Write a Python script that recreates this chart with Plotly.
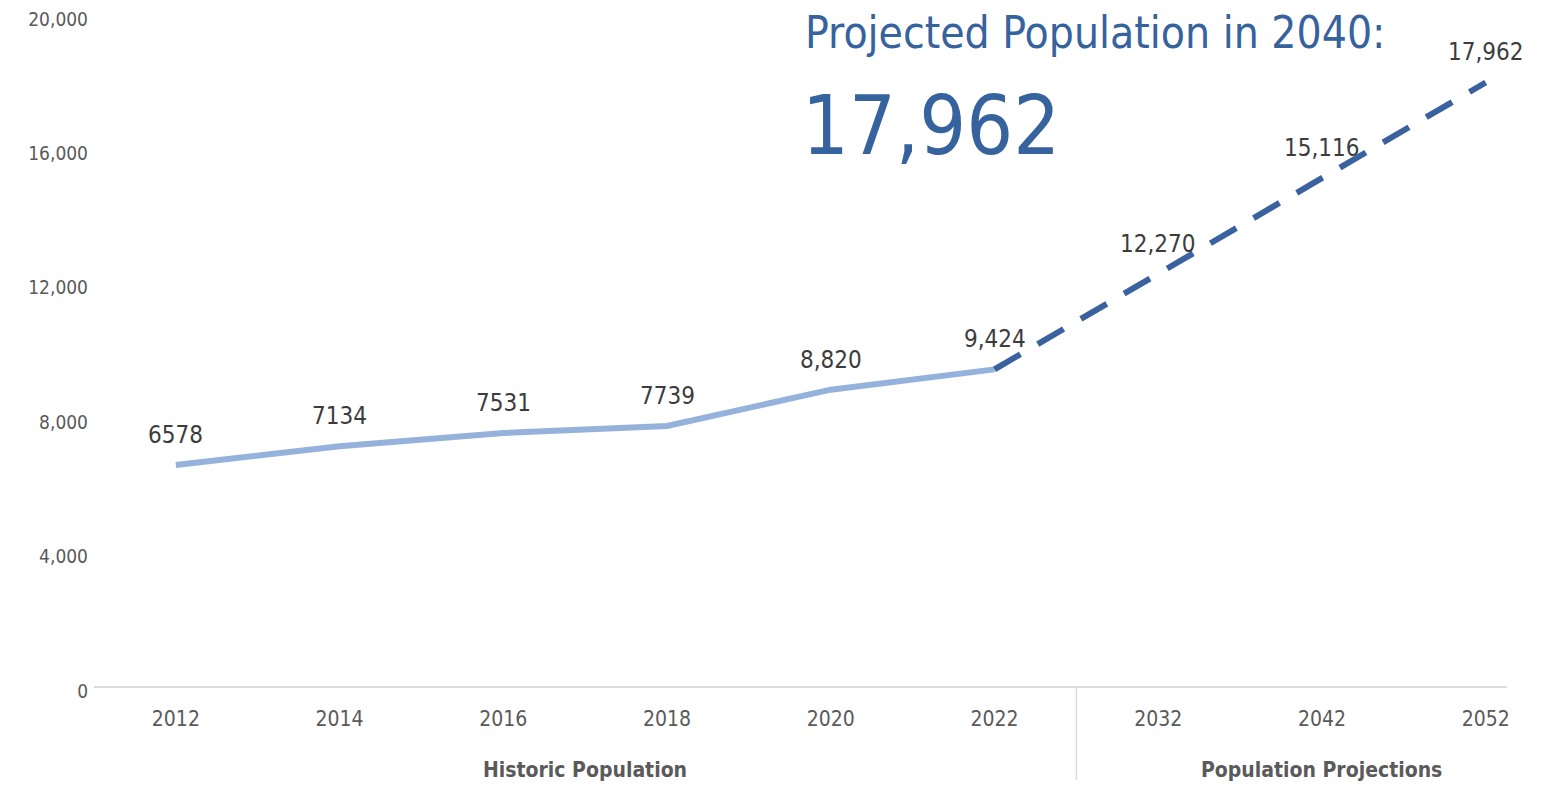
import plotly.graph_objects as go

# Population by year: historic counts and projections
years = ["2012", "2014", "2016", "2018", "2020", "2022", "2032", "2042", "2052"]
groups = ["Historic Population"] * 6 + ["Population Projections"] * 3
historic_years = years[:6]
historic_values = [6578, 7134, 7531, 7739, 8820, 9424]
projection_years = years[5:]
projection_values = [9424, 12270, 15116, 17962]
headline_value = 17962
y_ticks = [0, 4000, 8000, 12000, 16000, 20000]

NARROW = "DejaVu Sans Condensed, DejaVu Sans, sans-serif"
TITLE_BLUE = "#36629D"
LIGHT_BLUE = "#95B2DD"
DARK_BLUE = "#3A629E"
LABEL_GRAY = "#3C3C3C"
TICK_GRAY = "#5A5A5A"

W, H = 1559, 790
ML, MR, MT, MB = 94, 52, 13, 104
PW, PH = W - ML - MR, H - MT - MB

fig = go.Figure()

idx = {y: i for i, y in enumerate(years)}

fig.add_trace(go.Scatter(
    x=[idx[y] for y in historic_years], y=historic_values,
    mode="lines", line=dict(color=LIGHT_BLUE, width=6),
    hoverinfo="skip", showlegend=False,
))
fig.add_trace(go.Scatter(
    x=[idx[y] for y in projection_years], y=projection_values,
    mode="lines", line=dict(color=DARK_BLUE, width=6, dash="30px,20px"),
    hoverinfo="skip", showlegend=False,
))

# Data labels above each point
all_values = historic_values + projection_values[1:]
for i, v in enumerate(all_values):
    txt = f"{v:,}" if v >= 8000 else f"{v}"
    fig.add_annotation(
        x=i, y=v, xref="x", yref="y", text=txt, showarrow=False,
        yshift=30, font=dict(family=NARROW, size=24, color=LABEL_GRAY, weight=500),
    )

# Group titles under the year labels
group_names = ["Historic Population", "Population Projections"]
for name in group_names:
    members = [i for i, g in enumerate(groups) if g == name]
    center = (members[0] + members[-1]) / 2
    fig.add_annotation(
        x=center, y=0, xref="x", yref="paper", yanchor="middle",
        yshift=-84, text=f"<b>{name}</b>", showarrow=False,
        font=dict(family=NARROW, size=21, color=TICK_GRAY),
    )

# Divider between the two groups
split = groups.index("Population Projections") - 0.5
fig.add_shape(
    type="line", xref="x", yref="paper", x0=split, x1=split,
    y0=0, y1=-0.14, line=dict(color="#DADADA", width=1.5),
)

# Headline
fig.add_annotation(
    x=(803 - ML) / PW, y=1 + (MT - 5) / PH,
    xref="paper", yref="paper", xanchor="left", yanchor="top",
    text="Projected Population in 2040:", showarrow=False,
    font=dict(family=NARROW, size=44, color=TITLE_BLUE),
)
fig.add_annotation(
    x=(800 - ML) / PW, y=1 - (76 - MT) / PH,
    xref="paper", yref="paper", xanchor="left", yanchor="top",
    text=f"{headline_value:,}", showarrow=False,
    font=dict(family=NARROW, size=82, color=TITLE_BLUE),
)

fig.update_layout(
    width=W, height=H,
    margin=dict(l=ML, r=MR, t=MT, b=MB, autoexpand=False),
    paper_bgcolor="white", plot_bgcolor="white",
    xaxis=dict(
        range=[-0.5, 8.13], tickmode="array",
        tickvals=list(range(len(years))), ticktext=years,
        showgrid=False, zeroline=False,
        showline=True, linecolor="#DDDDDD", linewidth=1.5,
        ticks="", ticklabelstandoff=13,
        tickfont=dict(family=NARROW, size=21, color=TICK_GRAY),
    ),
    yaxis=dict(
        range=[0, 20030], tickmode="array", tickvals=y_ticks,
        ticktext=[f"{t:,}" for t in y_ticks],
        showgrid=False, zeroline=False, showline=False, ticks="",
        ticklabelstandoff=5, ticklabelshift=5,
        tickfont=dict(family=NARROW, size=19, color=TICK_GRAY),
    ),
)

fig.write_html("out.html")
